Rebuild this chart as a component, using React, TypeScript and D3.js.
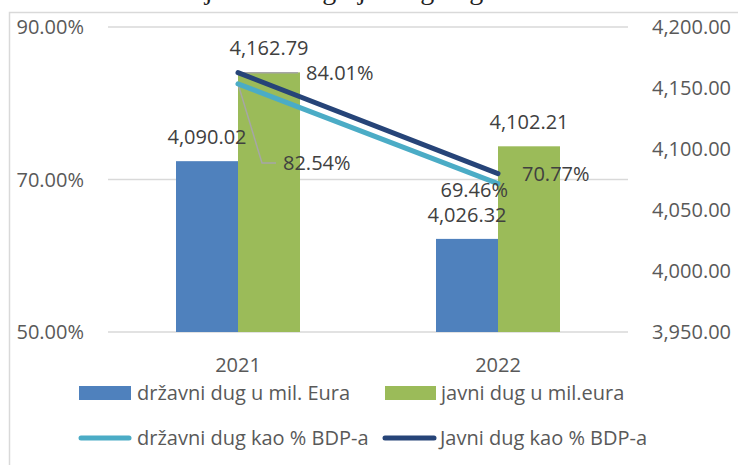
import * as d3 from 'd3'

const years = ['2021', '2022']
const drzavniDugMil = [4090.02, 4026.32]
const javniDugMil = [4162.79, 4102.21]
const drzavniDugPct = [82.54, 69.46]
const javniDugPct = [84.01, 70.77]
const leftTicks = [50, 70, 90]
const rightTicks = [3950, 4000, 4050, 4100, 4150, 4200]
const legendLabels = [
  'državni dug u mil. Eura',
  'javni dug u mil.eura',
  'državni dug kao % BDP-a',
  'Javni dug kao % BDP-a',
]

const W = 738
const H = 465
const FONT = "'Open Sans', sans-serif"
const BLUE = '#4f81bd'
const GREEN = '#9bbb59'
const LIGHT = '#4bacc6'
const DARK = '#264478'

export default function App() {
  const plot = { left: 108, right: 628, top: 27, bottom: 332 }

  const x = d3.scaleBand<string>().domain(years).range([plot.left, plot.right])
  // two bars per category, 62px each, centred
  const po = (x.bandwidth() / 62 - 2) / 2
  const xs = d3
    .scaleBand<string>()
    .domain(['drz', 'jav'])
    .range([0, x.bandwidth()])
    .paddingInner(0)
    .paddingOuter(po)

  const yL = d3.scaleLinear().domain([50, 90]).range([plot.bottom, plot.top])
  const yR = d3.scaleLinear().domain([3950, 4200]).range([plot.bottom, plot.top])

  const cx = (i: number) => (x(years[i]) ?? 0) + x.bandwidth() / 2
  const fmtNum = d3.format(',.2f')
  const fmtPct = (v: number) => `${v.toFixed(2)}%`

  const line = d3
    .line<number>()
    .x((_, i) => cx(i))
    .y((d) => yL(d))

  const bars = [
    { key: 'drz', values: drzavniDugMil, color: BLUE },
    { key: 'jav', values: javniDugMil, color: GREEN },
  ]

  // line-label anchor points (labels were moved by hand in the original)
  const p0 = { x: cx(0), y: yL(drzavniDugPct[0]) }
  const q0 = { x: cx(0), y: yL(javniDugPct[0]) }
  const p1 = { x: cx(1), y: yL(drzavniDugPct[1]) }
  const q1 = { x: cx(1), y: yL(javniDugPct[1]) }

  return (
    <div style={{ position: 'fixed', left: 0, top: 0 }}>
      <svg width={W} height={H} style={{ display: 'block', background: '#fff' }}>
        {/* cut-off caption above the chart */}
        <text x={15} y={-1} fontFamily="'Liberation Serif', serif" fontSize={28} fill="#222">
          Grafikon 1.
        </text>
        <text x={155} y={-1} fontFamily="'Liberation Serif', serif" fontSize={28} fill="#222">
          Stanje državnog i javnog duga
        </text>

        {/* chart border */}
        <rect x={9.5} y={12.5} width={W + 20} height={H + 20} fill="none" stroke="#d9d9d9" strokeWidth={1.5} />

        {/* gridlines */}
        {leftTicks.map((t) => (
          <line key={t} x1={plot.left} x2={plot.right} y1={yL(t)} y2={yL(t)} stroke="#d9d9d9" strokeWidth={1.3} />
        ))}

        {/* left axis */}
        {leftTicks.map((t) => (
          <text key={t} x={84} y={yL(t)} dy="0.35em" textAnchor="end" fontFamily={FONT} fontSize={20} fill="#595959">
            {fmtPct(t)}
          </text>
        ))}

        {/* right axis */}
        {rightTicks.map((t) => (
          <text key={t} x={652} y={yR(t)} dy="0.35em" textAnchor="start" fontFamily={FONT} fontSize={20} fill="#595959">
            {fmtNum(t)}
          </text>
        ))}

        {/* bars */}
        {bars.map((s) =>
          s.values.map((v, i) => (
            <rect
              key={s.key + i}
              x={(x(years[i]) ?? 0) + (xs(s.key) ?? 0)}
              y={yR(v)}
              width={xs.bandwidth()}
              height={plot.bottom - yR(v)}
              fill={s.color}
            />
          ))
        )}

        {/* bar labels */}
        {bars.map((s) =>
          s.values.map((v, i) => (
            <text
              key={'l' + s.key + i}
              x={(x(years[i]) ?? 0) + (xs(s.key) ?? 0) + xs.bandwidth() / 2}
              y={yR(v) - 17}
              textAnchor="middle"
              fontFamily={FONT}
              fontSize={20}
              fill="#404040"
            >
              {fmtNum(v)}
            </text>
          ))
        )}

        {/* leader lines */}
        <polyline
          points={`${q0.x},${q0.y} ${q0.x + 60},${q0.y}`}
          fill="none"
          stroke="#a6a6a6"
          strokeWidth={1.5}
        />
        <polyline
          points={`${p0.x},${p0.y} ${p0.x + 24},${p0.y + 79} ${p0.x + 38},${p0.y + 79}`}
          fill="none"
          stroke="#a6a6a6"
          strokeWidth={1.5}
        />

        {/* lines */}
        <path d={line(drzavniDugPct) ?? ''} fill="none" stroke={LIGHT} strokeWidth={5} strokeLinecap="round" />
        <path d={line(javniDugPct) ?? ''} fill="none" stroke={DARK} strokeWidth={5} strokeLinecap="round" />

        {/* line labels */}
        <text x={q0.x + 68} y={q0.y} dy="0.35em" fontFamily={FONT} fontSize={20} fill="#404040">
          {fmtPct(javniDugPct[0])}
        </text>
        <text x={p0.x + 45} y={p0.y + 79} dy="0.35em" fontFamily={FONT} fontSize={20} fill="#404040">
          {fmtPct(drzavniDugPct[0])}
        </text>
        <text x={p1.x + 10} y={p1.y + 13} textAnchor="end" fontFamily={FONT} fontSize={20} fill="#404040">
          {fmtPct(drzavniDugPct[1])}
        </text>
        <text x={q1.x + 24} y={q1.y} dy="0.35em" fontFamily={FONT} fontSize={20} fill="#404040">
          {fmtPct(javniDugPct[1])}
        </text>

        {/* category axis */}
        {years.map((yr, i) => (
          <text key={yr} x={cx(i)} y={372} textAnchor="middle" fontFamily={FONT} fontSize={20} fill="#595959">
            {yr}
          </text>
        ))}

        {/* legend */}
        <rect x={79} y={386} width={52} height={14} fill={BLUE} />
        <text x={137} y={400} fontFamily={FONT} fontSize={20} fill="#595959">
          {legendLabels[0]}
        </text>
        <rect x={385} y={386} width={51} height={14} fill={GREEN} />
        <text x={441} y={400} fontFamily={FONT} fontSize={20} fill="#595959">
          {legendLabels[1]}
        </text>
        <line x1={81} x2={129} y1={438} y2={438} stroke={LIGHT} strokeWidth={5} strokeLinecap="round" />
        <text x={137} y={445} fontFamily={FONT} fontSize={20} fill="#595959">
          {legendLabels[2]}
        </text>
        <line x1={385} x2={434} y1={438} y2={438} stroke={DARK} strokeWidth={5} strokeLinecap="round" />
        <text x={440} y={445} fontFamily={FONT} fontSize={20} fill="#595959">
          {legendLabels[3]}
        </text>
      </svg>
    </div>
  )
}
